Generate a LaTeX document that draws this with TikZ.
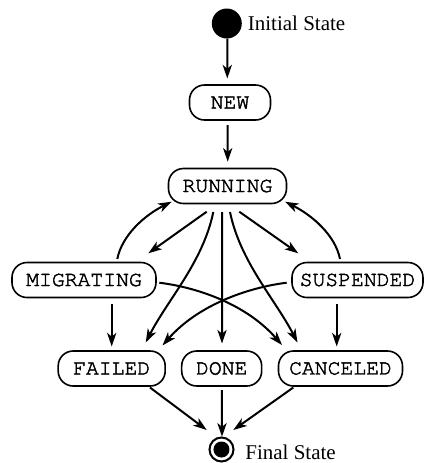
\documentclass[tikz,border=0pt]{standalone}
\usepackage{fontspec}
\setmainfont{Liberation Serif}
\setmonofont{TeX Gyre Cursor}[FakeBold=2]
\usetikzlibrary{arrows.meta,calc}
\begin{document}
\begin{tikzpicture}[x=0.5pt,y=-0.5pt,
  state/.style={draw,line width=0.8pt,rounded corners=7.5pt,minimum height=17.5pt,inner sep=0pt,font=\fontsize{10.7}{12}\ttfamily},
  arr/.style={line width=1pt,-{Stealth[length=6.8pt,width=4.6pt,inset=1.9pt]}},
  lbl/.style={font=\fontsize{10.5}{12}\selectfont,inner sep=0pt,anchor=base west}]
\useasboundingbox (0,0) rectangle (424,463);
% nodes
\node[circle,fill,minimum size=15pt,inner sep=0pt] (init) at (226.8,23.5) {};
\node[lbl] (initlbl) at (247.5,30.5) {Initial State};
\node[state,minimum width=40.5pt] (new) at (230,102.5) {NEW};
\node[state,minimum width=59pt] (run) at (227.5,186) {RUNNING};
\node[state,minimum width=72pt] (mig) at (84,280) {MIGRATING};
\node[state,minimum width=65.5pt] (sus) at (357.5,280) {SUSPENDED};
\node[state,minimum width=53.5pt] (fail) at (111.7,368.5) {FAILED};
\node[state,minimum width=40pt] (done) at (221.7,368.5) {DONE};
\node[state,minimum width=62pt] (can) at (340.5,368.5) {CANCELED};
\node[circle,draw,line width=1pt,minimum size=12pt,inner sep=0pt] (fin) at (221.5,449.5) {};
\fill (fin.center) circle (4pt);
\node[lbl] (finlbl) at (245,459) {Final State};
% edges
\draw[arr] ($(init.center)+(0.5,15)$) -- ($(new.center)+(-2.7,-24)$);
\draw[arr] ($(new.center)+(-2.3,22.5)$) -- ($(run.center)+(0.2,-24.3)$);
\draw[arr] ($(run.center)+(-20.8,25.7)$) -- ($(mig.center)+(64.3,-26.7)$);
\draw[arr] ($(mig.center)+(33.3,-21)$) .. controls +(4.7,-24) and +(-26.7,13.3) .. ($(run.center)+(-55.8,15.7)$);
\draw[arr] ($(run.center)+(11.8,25.7)$) -- ($(sus.center)+(-59.2,-26.7)$);
\draw[arr] ($(sus.center)+(-17.5,-21)$) .. controls +(-4.7,-24) and +(26.7,13.3) .. ($(run.center)+(57.5,15.7)$);
\draw[arr] ($(run.center)+(-14.2,26)$) .. controls +(-10.3,50) and +(22.3,-43.3) .. ($(fail.center)+(34,-26)$);
\draw[arr] ($(run.center)+(-5.3,26)$) -- ($(done.center)+(0.3,-25)$);
\draw[arr] ($(run.center)+(2.5,26)$) .. controls +(10.3,50) and +(-22.3,-43.3) .. ($(can.center)+(-43,-26)$);
\draw[arr] ($(mig.center)+(27.7,24)$) -- ($(fail.center)+(0,-22)$);
\draw[arr] ($(mig.center)+(75.3,2.7)$) .. controls +(40,5) and +(-35,-40) .. ($(can.center)+(-58.5,-23.5)$);
\draw[arr] ($(sus.center)+(-70.8,2.7)$) .. controls +(-40,5) and +(35,-40) .. ($(fail.center)+(50.8,-23)$);
\draw[arr] ($(sus.center)+(-20.8,24)$) -- ($(can.center)+(-3.8,-22)$);
\draw[arr] ($(fail.center)+(38.3,19)$) -- ($(fin.center)+(-14.8,-19.5)$);
\draw[arr] ($(done.center)+(0.3,21.5)$) -- ($(fin.center)+(0.5,-12.8)$);
\draw[arr] ($(can.center)+(-47.2,19)$) -- ($(fin.center)+(11.8,-19.5)$);
\end{tikzpicture}
\end{document}
